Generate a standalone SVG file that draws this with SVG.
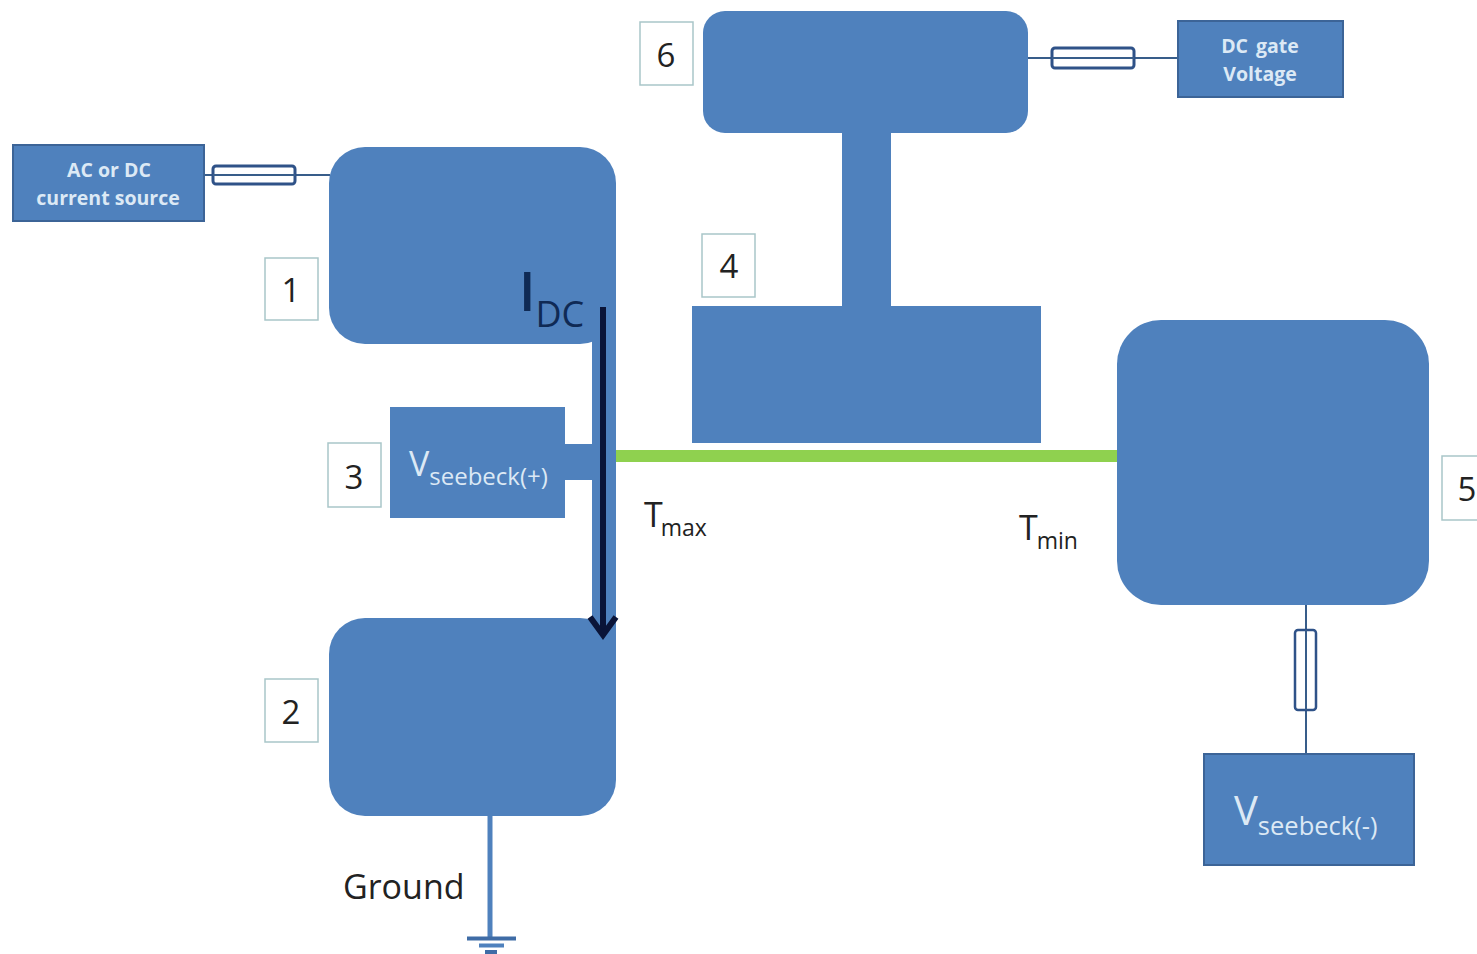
<svg xmlns="http://www.w3.org/2000/svg" width="1477" height="954" viewBox="0 0 1477 954">
<style>
text{font-family:"Open Sans","Noto Sans","Liberation Sans",sans-serif}
.b{fill:#4f81bd}
.bx{fill:#4f81bd;stroke:#3c6497;stroke-width:2}
.n{fill:#fff;stroke:#a9c6c9;stroke-width:1.5}
.nt{font-size:33px;fill:#222;text-anchor:middle}
.w{fill:#dce9f5;font-weight:700;font-size:19.500px;text-anchor:middle}
.v{fill:#dce9f5}
.d{fill:#222}
.l{fill:none;stroke:#385d8a;stroke-width:2}
.f{fill:#fff;stroke:#2f5288;stroke-width:3}
</style>
<rect width="1477" height="954" fill="#fff"/>
<g id="connectors">
<line class="l" x1="204" y1="175" x2="330" y2="175"/>
<line class="l" x1="1028" y1="58" x2="1178" y2="58"/>
<line class="l" x1="1306" y1="603" x2="1306" y2="754"/>
<line x1="490" y1="815" x2="490" y2="938" stroke="#4f81bd" stroke-width="5"/>
<line x1="467" y1="938.500" x2="516" y2="938.500" stroke="#3f6ca6" stroke-width="4"/>
<line x1="479" y1="945.500" x2="504" y2="945.500" stroke="#4f81bd" stroke-width="4"/>
<line x1="485" y1="952" x2="497" y2="952" stroke="#3f6ca6" stroke-width="4"/>
<line id="wire" x1="616" y1="456" x2="1117" y2="456" stroke="#8fd14f" stroke-width="12"/>
</g>
<g id="fuse-1"><rect class="f" x="213" y="166" width="82" height="18" rx="3"/><line class="l" x1="213" y1="175" x2="295" y2="175"/></g>
<g id="fuse-6"><rect class="f" x="1052" y="48" width="82" height="20" rx="3"/><line class="l" x1="1052" y1="58" x2="1134" y2="58"/></g>
<g id="fuse-5"><rect x="1295" y="630" width="21" height="80" rx="3" fill="#fff" stroke="#2f5288" stroke-width="2.500"/><line class="l" x1="1306" y1="630" x2="1306" y2="710"/></g>
<g id="source"><rect class="bx" x="13" y="145" width="191" height="76"/><text class="w" x="109" y="177">AC or DC</text><text class="w" x="108" y="205">current source</text></g>
<g id="gate"><rect class="bx" x="1178" y="21" width="165" height="76"/><text class="w" x="1260" y="53" word-spacing="3">DC gate</text><text class="w" x="1260" y="81">Voltage</text></g>
<g id="node-1"><rect class="b" x="329" y="147" width="287" height="197" rx="36"/>
<rect class="n" x="265" y="258" width="53" height="62"/><text class="nt" x="291" y="302">1</text></g>
<g id="node-2"><rect class="b" x="329" y="618" width="287" height="198" rx="36"/>
<rect class="n" x="265" y="679" width="53" height="63"/><text class="nt" x="291" y="724">2</text></g>
<rect class="b" x="592" y="290" width="24" height="380"/>
<g id="node-3"><rect class="b" x="390" y="407" width="175" height="111"/><rect class="b" x="560" y="444" width="40" height="36"/>
<rect class="n" x="328" y="443" width="53" height="64"/><text class="nt" x="354" y="489">3</text>
<text class="v" x="409" y="476" font-size="34">V<tspan font-size="24" dy="9">seebeck(+)</tspan></text></g>
<g id="node-4"><rect class="b" x="692" y="306" width="349" height="137"/>
<rect class="n" x="702" y="234" width="53" height="63"/><text class="nt" x="729" y="278">4</text></g>
<g id="node-5"><rect class="b" x="1117" y="320" width="312" height="285" rx="44"/>
<rect class="n" x="1442" y="456" width="40" height="64"/><text class="nt" x="1467" y="501">5</text></g>
<g id="node-6"><rect class="b" x="703" y="11" width="325" height="122" rx="22"/><rect class="b" x="842" y="125" width="49" height="185"/>
<rect class="n" x="640" y="22" width="53" height="63"/><text class="nt" x="666" y="67">6</text></g>
<g id="vminus"><rect class="bx" x="1204" y="754" width="210" height="111"/>
<text class="v" x="1234" y="825" font-size="40">V<tspan font-size="25.500" dy="10">seebeck(-)</tspan></text></g>
<g id="current">
<line x1="603" y1="307" x2="603" y2="634" stroke="#0a1438" stroke-width="6"/>
<path d="M590 617L603 635L616 617" fill="none" stroke="#0a1438" stroke-width="6"/>
<text x="519" y="311" font-size="54" fill="#0f2a55" font-weight="600">I<tspan font-size="36" font-weight="400" dy="16">DC</tspan></text>
</g>
<text class="d" x="644" y="527" font-size="34">T<tspan font-size="23" dx="-2" dy="9">max</tspan></text>
<text class="d" x="1019" y="540" font-size="34">T<tspan font-size="23" dx="-1" dy="9">min</tspan></text>
<text class="d" x="343" y="899" font-size="34">Ground</text>
</svg>
